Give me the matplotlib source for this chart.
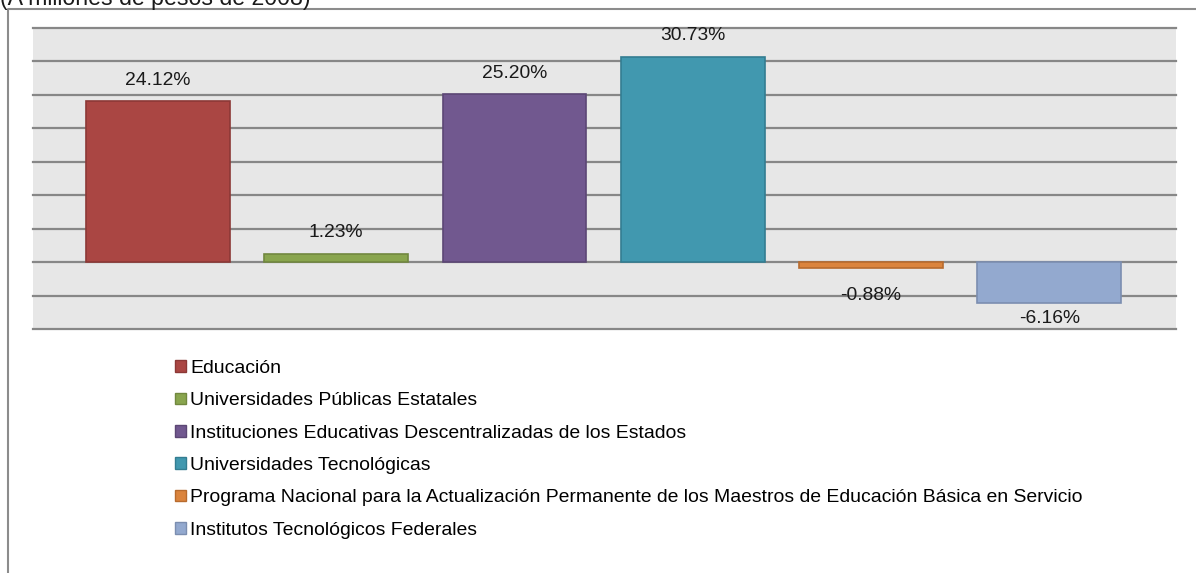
"""
Variacion real del gasto en educacion por programa.
"""
import matplotlib
matplotlib.use("Agg")
import matplotlib.pyplot as plt
from matplotlib.patches import Patch
from matplotlib.lines import Line2D

plt.rcParams['font.family'] = ['Liberation Sans', 'DejaVu Sans']

# datos
categorias = [
    "Educación",
    "Universidades Públicas Estatales",
    "Instituciones Educativas Descentralizadas de los Estados",
    "Universidades Tecnológicas",
    "Programa Nacional para la Actualización Permanente de los Maestros de Educación Básica en Servicio",
    "Institutos Tecnológicos Federales",
]
variacion = [24.12, 1.23, 25.20, 30.73, -0.88, -6.16]
etiquetas = ["24.12%", "1.23%", "25.20%", "30.73%", "-0.88%", "-6.16%"]

colores = ["#AA4643", "#89A54E", "#71588F", "#4198AF", "#DB843D", "#93A9CF"]
bordes = ["#8C3836", "#71883F", "#5C4775", "#337D91", "#B86B2E", "#7B8EB0"]
# desplazamiento vertical de cada etiqueta (px)
offsets = [-20, -21, -20, -21, -28, -15]

fig = plt.figure(figsize=(11.96, 5.73), dpi=100)
ax = fig.add_axes([33 / 1196, 1 - 329 / 573, (1176 - 33) / 1196, (329 - 28) / 573])
ax.set_facecolor("#E7E7E7")

x = list(range(len(categorias)))
ax.set_xlim(-0.70, 5.71)
ax.set_ylim(-10, 35)

for y in range(-10, 40, 5):
    ax.axhline(y, color="#878787", lw=1.6, zorder=1, clip_on=False)

bars = ax.bar(x, variacion, width=0.807, color=colores, edgecolor=bordes,
              linewidth=1.2, zorder=3)

for xi, v, lab, off in zip(x, variacion, etiquetas, offsets):
    dy = -off if v >= 0 else off
    ax.annotate(lab, (xi, v), xytext=(0, dy * 0.72), textcoords="offset points",
                ha="center", va="center", fontsize=13.9, color="#1a1a1a", zorder=4)

ax.set_xticks([])
ax.set_yticks([])
for s in ax.spines.values():
    s.set_visible(False)

# leyenda
handles = [Patch(facecolor=c, edgecolor=b, linewidth=1.0) for c, b in zip(colores, bordes)]
fig.legend(handles, categorias, loc="upper left", bbox_to_anchor=(175 / 1196, 1 - 360 / 573),
           frameon=False, fontsize=13.95, handlelength=0.55, handleheight=0.55,
           handletextpad=0.22, labelspacing=0.79, borderpad=0, borderaxespad=0)

# borde del grafico
fig.add_artist(Line2D([8 / 1196, 8 / 1196, 1.0], [0, 1 - 9 / 573, 1 - 9 / 573],
                      transform=fig.transFigure, color="#8C8C8C", lw=1.5))

fig.text(0.0, 1 - 5.5 / 573, "(A millones de pesos de 2008)", fontsize=16.7,
         ha="left", va="baseline", color="#1a1a1a")

fig.savefig("out.png", dpi=100)
